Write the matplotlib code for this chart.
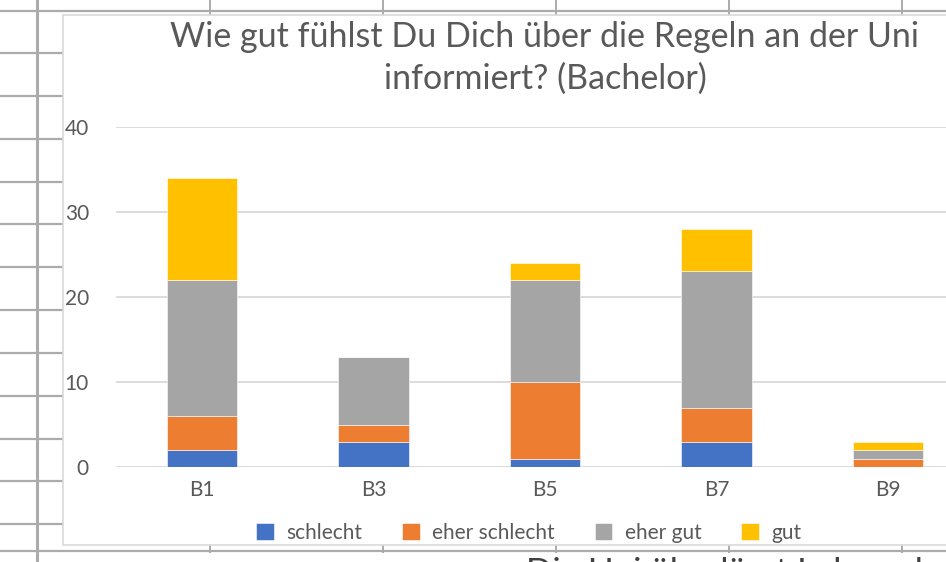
import numpy as np
import matplotlib.pyplot as plt
from matplotlib.patches import Rectangle
from matplotlib.lines import Line2D

plt.rcParams['font.family'] = ['Lato', 'DejaVu Sans']

categories = ["B1", "B3", "B5", "B7", "B9"]
series_names = ["schlecht", "eher schlecht", "eher gut", "gut"]
schlecht = [2, 3, 1, 3, 0]
eher_schlecht = [4, 2, 9, 4, 1]
eher_gut = [16, 8, 12, 16, 1]
gut = [12, 0, 2, 5, 1]
yticks = [0, 10, 20, 30, 40]

colors = ['#4472C4', '#ED7D31', '#A5A5A5', '#FFC000']
text_col = '#595959'
grid_col = '#D9D9D9'

W, H = 946, 562
fig = plt.figure(figsize=(W / 100, H / 100), dpi=100)

def fx(x):
    return x / W

def fy(y):
    return 1 - y / H

# spreadsheet grid behind the chart objects
sheet_col = '#ABABAB'
for x in [37, 210, 383, 556, 729, 902]:
    lw = 2.2 if x == 37 else 1.4
    fig.add_artist(Line2D([fx(x), fx(x)], [0, 1], color=sheet_col, lw=lw, zorder=0))
for y in [11, 53, 96, 139, 182, 224, 267, 310, 353, 396, 439, 481, 524, 551]:
    fig.add_artist(Line2D([0, 1], [fy(y), fy(y)], color=sheet_col, lw=1.6, zorder=0))

# chart object frame
fig.add_artist(Rectangle((fx(63), fy(545)), fx(1100) - fx(63), fy(15) - fy(545),
                         facecolor='white', edgecolor=grid_col, lw=1.2, zorder=1))
# next chart object below, mostly out of view
fig.add_artist(Rectangle((fx(63), fy(600)), fx(1100) - fx(63), fy(552.5) - fy(600),
                         facecolor='white', edgecolor='none', zorder=1))
fig.text(fx(526), fy(557), "Die Uni überlässt Lehrenden", ha='left', va='top',
         fontsize=25, color='#404040', zorder=2)

ax = fig.add_axes([fx(116), fy(467.3), fx(974) - fx(116), fy(126.7) - fy(467.3)])
ax.set_zorder(3)
ax.patch.set_alpha(0)

x = np.arange(len(categories))
bottom = np.zeros(len(categories))
for name, vals, c in zip(series_names, [schlecht, eher_schlecht, eher_gut, gut], colors):
    ax.bar(x, vals, width=0.41, bottom=bottom, color=c, label=name,
           edgecolor='white', linewidth=0.4, zorder=3)
    bottom += np.array(vals)

ax.set_xlim(-0.5, len(categories) - 0.5)
ax.set_ylim(0, 40)
ax.set_yticks(yticks)
ax.set_xticks(x)
ax.set_xticklabels(categories)
ax.grid(axis='y', color=grid_col, lw=1.3, zorder=0)
ax.set_axisbelow(True)
for s in ax.spines.values():
    s.set_visible(False)
ax.tick_params(axis='both', length=0, colors=text_col, labelsize=15)
ax.tick_params(axis='y', pad=19.5)
ax.tick_params(axis='x', pad=9)

fig.text(fx(545), fy(21), "Wie gut fühlst Du Dich über die Regeln an der Uni\ninformiert? (Bachelor)",
         ha='center', va='top', fontsize=24.5, color=text_col, linespacing=1.38, zorder=4)

handles, labels = ax.get_legend_handles_labels()
fig.legend(handles, labels, loc='center', bbox_to_anchor=(fx(529), fy(533)), ncol=4,
           frameon=False, fontsize=15, labelcolor=text_col, handlelength=0.85,
           handleheight=0.85, handletextpad=0.6, columnspacing=1.9)

fig.savefig('out.png', dpi=100)
